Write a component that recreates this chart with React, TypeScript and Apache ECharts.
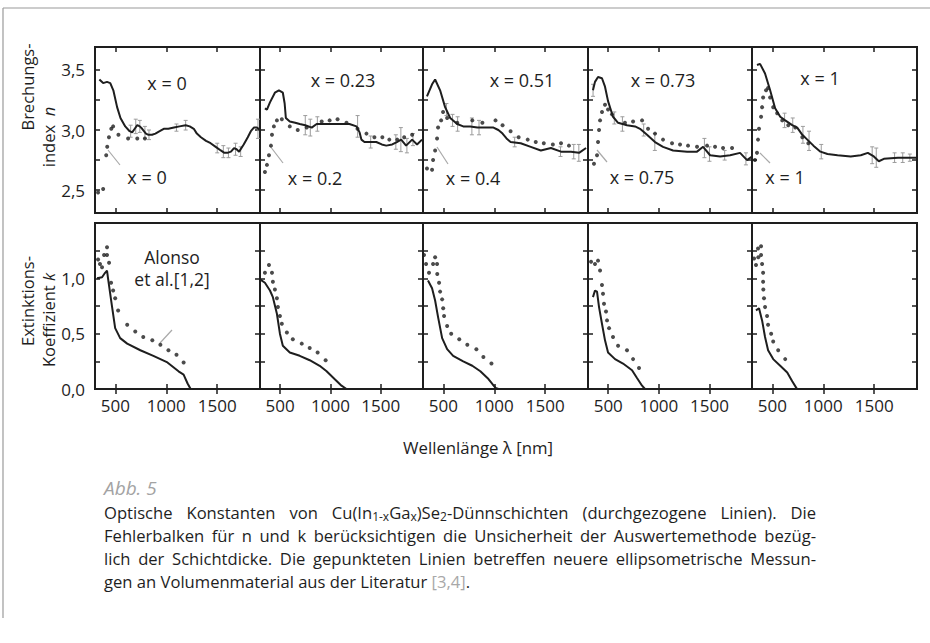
import React, { useEffect, useRef } from "react";
import * as echarts from "echarts";

const FAMILY = '"Open Sans", sans-serif';

// composition labels
const filmLabels = ["x = 0", "x = 0.23", "x = 0.51", "x = 0.73", "x = 1"];
const bulkLabels = ["x = 0", "x = 0.2", "x = 0.4", "x = 0.75", "x = 1"];
const xTickValues = [500, 1000, 1500];
const nTickValues = [2.5, 2.75, 3, 3.25, 3.5];
const nLabelValues = [2.5, 3, 3.5];
const kLabelValues = [0, 0.5, 1];

// refractive index n: film (solid), bulk (dotted), error bars [nm, n, half]
const nFilm0 = [[343,3.42],[380,3.39],[418,3.40],[450,3.39],[480,3.33],[517,3.19],[550,3.10],[597,3.03],[640,2.99],[665,2.98],[690,3.01],[715,3.04],[740,3.03],[763,3.01],[800,2.97],[825,2.96],[860,2.96],[893,2.97],[935,2.99],[975,3.01],[1020,3.01],[1075,3.02],[1130,3.03],[1190,3.04],[1230,3.03],[1270,3.01],[1300,2.97],[1340,2.94],[1390,2.91],[1435,2.89],[1485,2.86],[1535,2.83],[1570,2.81],[1600,2.81],[1635,2.82],[1665,2.85],[1690,2.84],[1715,2.82],[1760,2.88],[1800,2.94],[1830,2.99],[1860,3.02],[1890,3.02],[1920,3.00]];
const nBulk0 = [[330,2.48],[380,2.51],[410,2.79],[420,2.86],[437,2.94],[460,3.01],[478,3.03],[530,2.96],[625,2.93],[715,2.93],[790,2.93]];
const nErr0 = [[650,2.99,0.05],[700,3.03,0.06],[740,3.03,0.05],[790,2.98,0.05],[830,2.96,0.04],[1100,3.02,0.03],[1190,3.04,0.04],[1500,2.85,0.04],[1560,2.82,0.05],[1610,2.81,0.04],[1680,2.84,0.05],[1730,2.82,0.04],[1900,3.01,0.08]];

const nFilm1 = [[349,3.18],[369,3.17],[399,3.23],[448,3.31],[488,3.33],[527,3.31],[545,3.22],[557,3.10],[596,3.07],[650,3.06],[695,3.05],[750,3.04],[814,3.02],[863,3.05],[940,3.05],[1021,3.05],[1100,3.05],[1189,3.05],[1259,3.03],[1290,2.98],[1308,2.92],[1338,2.90],[1400,2.90],[1456,2.90],[1510,2.88],[1555,2.87],[1614,2.88],[1660,2.90],[1703,2.92],[1752,2.87],[1812,2.92],[1861,2.88],[1910,2.92]];
const nBulk1 = [[349,2.65],[369,2.71],[389,2.79],[409,2.87],[419,2.96],[438,3.03],[468,3.08],[517,3.09],[596,3.03],[675,3.00],[764,3.02],[913,3.07],[992,3.08],[1071,3.09],[1160,3.06],[1269,3.01],[1358,2.97],[1437,2.94],[1516,2.94],[1585,2.92],[1664,2.92],[1733,2.94],[1812,2.96]];
const nErr1 = [[750,3.04,0.08],[800,3.02,0.07],[870,3.05,0.06],[1270,3.03,0.09],[1400,2.90,0.05],[1650,2.90,0.06],[1700,2.92,0.10],[1760,2.87,0.06],[1820,2.92,0.05]];

const nFilm2 = [[339,3.28],[389,3.38],[419,3.42],[468,3.33],[517,3.19],[567,3.10],[636,3.05],[695,3.03],[764,3.03],[834,3.02],[893,3.02],[992,3.02],[1040,3.00],[1081,2.97],[1120,2.93],[1160,2.90],[1259,2.89],[1358,2.86],[1457,2.83],[1556,2.85],[1655,2.82],[1753,2.82],[1832,2.81],[1901,2.85]];
const nBulk2 = [[339,2.68],[389,2.67],[399,2.75],[419,2.83],[438,2.93],[448,3.02],[478,3.08],[497,3.15],[537,3.10],[636,3.06],[784,3.08],[883,3.06],[1012,3.08],[1081,3.04],[1160,2.99],[1239,2.94],[1328,2.92],[1407,2.90],[1486,2.89],[1575,2.88],[1655,2.89],[1733,2.87]];
const nErr2 = [[530,3.17,0.05],[590,3.08,0.05],[640,3.05,0.06],[780,3.03,0.07],[850,3.02,0.06],[1200,2.90,0.04],[1650,2.82,0.04],[1780,2.82,0.06],[1830,2.81,0.07]];

const nFilm3 = [[349,3.33],[369,3.40],[399,3.44],[438,3.43],[468,3.36],[498,3.24],[547,3.11],[597,3.06],[685,3.04],[765,3.03],[814,3.01],[883,2.96],[962,2.90],[1041,2.86],[1140,2.83],[1279,2.82],[1377,2.82],[1437,2.86],[1506,2.79],[1605,2.78],[1704,2.79],[1802,2.81],[1871,2.75],[1920,2.78]];
const nBulk3 = [[359,2.72],[389,2.79],[399,2.90],[409,3.00],[419,3.08],[438,3.15],[468,3.21],[498,3.17],[537,3.13],[665,3.06],[745,3.07],[834,3.08],[893,3.01],[962,2.97],[1041,2.92],[1130,2.89],[1209,2.88],[1288,2.87],[1377,2.86],[1476,2.87],[1555,2.86],[1634,2.85],[1723,2.85]];
const nErr3 = [[350,3.33,0.05],[560,3.10,0.05],[640,3.05,0.06],[850,3.00,0.05],[960,2.90,0.07],[1450,2.85,0.08],[1500,2.80,0.06],[1650,2.79,0.04],[1860,2.76,0.05]];

const nFilm4 = [[349,3.54],[379,3.55],[428,3.47],[478,3.33],[527,3.18],[577,3.11],[626,3.08],[695,3.04],[744,3.02],[794,2.96],[843,2.92],[903,2.87],[972,2.82],[1041,2.80],[1140,2.79],[1269,2.78],[1368,2.79],[1437,2.81],[1496,2.78],[1545,2.74],[1595,2.76],[1733,2.77],[1832,2.77],[1911,2.77]];
const nBulk4 = [[329,2.75],[349,2.81],[359,2.92],[369,3.01],[389,3.11],[399,3.19],[409,3.27],[438,3.33],[458,3.35],[478,3.27],[508,3.19],[547,3.14],[597,3.08],[656,3.04],[725,3.02],[794,2.94],[853,2.89]];
const nErr4 = [[620,3.08,0.06],[700,3.04,0.06],[800,2.96,0.07],[860,2.91,0.08],[980,2.82,0.06],[1480,2.79,0.07],[1520,2.77,0.08],[1700,2.77,0.04],[1780,2.77,0.04],[1850,2.77,0.03]];

// extinction coefficient k: film (solid), bulk (dotted)
const kFilm0 = [[320,1.00],[369,1.01],[399,1.05],[418,1.07],[428,1.00],[468,0.74],[498,0.55],[547,0.46],[616,0.41],[745,0.35],[873,0.30],[1011,0.24],[1120,0.16],[1170,0.13],[1209,0.05],[1239,0.00],[1270,0.00]];
const kBulk0 = [[330,1.17],[349,1.13],[369,1.10],[389,1.21],[418,1.28],[418,1.21],[438,1.14],[458,0.96],[478,0.89],[498,0.82],[527,0.71],[616,0.58],[695,0.52],[774,0.47],[863,0.44],[942,0.40],[1021,0.35],[1100,0.31],[1170,0.24]];
const kFilm1 = [[300,0.99],[349,0.96],[399,0.89],[428,0.83],[468,0.68],[498,0.50],[527,0.39],[596,0.33],[695,0.30],[794,0.26],[893,0.21],[962,0.16],[1041,0.09],[1110,0.03],[1160,0.00]];
const kBulk1 = [[349,1.05],[389,1.12],[419,1.05],[428,0.97],[448,0.90],[468,0.82],[478,0.74],[498,0.66],[517,0.59],[567,0.51],[626,0.45],[715,0.41],[794,0.37],[873,0.33],[952,0.26]];
const kFilm2 = [[349,0.98],[389,0.91],[419,0.80],[448,0.65],[488,0.46],[537,0.36],[596,0.30],[695,0.25],[784,0.21],[863,0.16],[943,0.09],[1012,0.01],[1041,0.00]];
const kBulk2 = [[310,1.21],[330,1.13],[359,1.05],[399,1.13],[419,1.19],[438,1.13],[440,1.04],[458,0.96],[468,0.88],[488,0.81],[498,0.73],[507,0.66],[537,0.57],[577,0.50],[656,0.45],[735,0.40],[824,0.36],[893,0.29],[972,0.23]];
const kFilm3 = [[349,0.83],[369,0.89],[389,0.88],[409,0.74],[438,0.59],[468,0.44],[498,0.33],[567,0.27],[646,0.23],[735,0.17],[784,0.10],[834,0.03],[863,0.00]];
const kBulk3 = [[330,1.15],[369,1.13],[399,1.16],[419,1.07],[438,0.94],[448,0.86],[458,0.77],[478,0.70],[488,0.62],[508,0.55],[547,0.47],[597,0.39],[685,0.35],[745,0.27],[804,0.19]];
const kFilm4 = [[339,0.71],[369,0.73],[399,0.62],[428,0.47],[458,0.35],[508,0.27],[577,0.21],[646,0.15],[695,0.07],[735,0.01],[745,0.00]];
const kBulk4 = [[320,1.18],[339,1.12],[359,1.27],[389,1.29],[362,1.19],[389,1.21],[399,1.13],[409,1.05],[409,0.97],[411,0.90],[418,0.82],[428,0.74],[448,0.66],[458,0.58],[488,0.50],[508,0.43],[557,0.35],[626,0.27]];

const nFilm = [nFilm0, nFilm1, nFilm2, nFilm3, nFilm4];
const nBulk = [nBulk0, nBulk1, nBulk2, nBulk3, nBulk4];
const nErr = [nErr0, nErr1, nErr2, nErr3, nErr4];
const kFilm = [kFilm0, kFilm1, kFilm2, kFilm3, kFilm4];
const kBulk = [kBulk0, kBulk1, kBulk2, kBulk3, kBulk4];

const captionHead = "Abb. 5";
const captionLines = [
  "Optische Konstanten von Cu(In_{1-x}Ga_{x})Se_{2}-Dünnschichten (durchgezogene Linien). Die",
  "Fehlerbalken für n und k berücksichtigen die Unsicherheit der Auswertemethode bezüg-",
  "lich der Schichtdicke. Die gepunkteten Linien betreffen neuere ellipsometrische Messun-",
  "gen an Volumenmaterial aus der Literatur #{[3,4]}.",
];

// layout
const panelLeft = [95, 260, 423, 588, 752];
const panelRight = 917;
const rowTop = [47, 223];
const rowHeight = 166;
const INK = "#1e1e1e";

function buildCaption(): any[] {
  const ctx = document.createElement("canvas").getContext("2d") as CanvasRenderingContext2D;
  const measure = (t: string, size: number) => {
    ctx.font = `${size}px ${FAMILY}`;
    return ctx.measureText(t).width;
  };
  const SIZE = 16.6;
  const SUB = 12;
  const X0 = 104;
  const W = 712;
  const Y0 = 512;
  const LH = 23;
  const out: any[] = [];
  captionLines.forEach((line, li) => {
    const words = line.split(" ").map((w) => {
      const segs: { t: string; kind: string }[] = [];
      const re = /_\{([^}]*)\}|#\{([^}]*)\}/g;
      let last = 0;
      let m: RegExpExecArray | null;
      while ((m = re.exec(w))) {
        if (m.index > last) segs.push({ t: w.slice(last, m.index), kind: "n" });
        if (m[1] !== undefined) segs.push({ t: m[1], kind: "sub" });
        else segs.push({ t: m[2], kind: "gray" });
        last = re.lastIndex;
      }
      if (last < w.length) segs.push({ t: w.slice(last), kind: "n" });
      const widths = segs.map((s) => measure(s.t, s.kind === "sub" ? SUB : SIZE));
      return { segs, widths, total: widths.reduce((a, b) => a + b, 0) };
    });
    const sum = words.reduce((a, w) => a + w.total, 0);
    const justify = li < captionLines.length - 1;
    const gap = justify ? (W - sum) / (words.length - 1) : measure(" ", SIZE);
    let x = X0;
    const y = Y0 + li * LH;
    words.forEach((w) => {
      let sx = x;
      w.segs.forEach((s, si) => {
        out.push({
          type: "text",
          x: sx,
          y: s.kind === "sub" ? y + 4 : y,
          silent: true,
          style: {
            text: s.t,
            fontSize: s.kind === "sub" ? SUB : SIZE,
            fontFamily: FAMILY,
            fill: s.kind === "gray" ? "#a8a8a8" : INK,
            align: "left",
            verticalAlign: "middle",
          },
        });
        sx += w.widths[si];
      });
      x += w.total + gap;
    });
  });
  return out;
}

export default function App() {
  const ref = useRef<HTMLDivElement>(null);
  useEffect(() => {
    if (!ref.current) return;
    const chart = echarts.init(ref.current, null, { renderer: "svg" });

    const grids: any[] = [];
    const xAxes: any[] = [];
    const yAxes: any[] = [];
    const series: any[] = [];

    const tickStyle = { show: true, inside: true, length: 5, lineStyle: { color: INK, width: 1.5 } };
    const labelFont = { fontFamily: FAMILY, fontSize: 17, color: INK };

    for (let r = 0; r < 2; r++) {
      for (let i = 0; i < 5; i++) {
        const g = r * 5 + i;
        const left = panelLeft[i];
        const right = i < 4 ? panelLeft[i + 1] : panelRight;
        grids.push({
          left,
          top: rowTop[r],
          width: right - left,
          height: rowHeight,
          show: true,
          borderColor: INK,
          borderWidth: 2,
          backgroundColor: "transparent",
        });
        const xBase = {
          type: "value",
          gridIndex: g,
          min: 300,
          max: 1920,
          splitLine: { show: false },
          axisLine: { show: false },
          axisTick: { ...tickStyle, customValues: xTickValues },
        };
        xAxes.push({
          ...xBase,
          position: "bottom",
          axisLabel:
            r === 1
              ? { show: true, customValues: xTickValues, margin: 8, ...labelFont, formatter: (v: number) => String(v) }
              : { show: false },
        });
        xAxes.push({ ...xBase, position: "top", axisLabel: { show: false } });

        const yBase: any =
          r === 0
            ? { type: "value", gridIndex: g, min: 2.31, max: 3.69, axisTick: { ...tickStyle, customValues: nTickValues } }
            : { type: "value", gridIndex: g, min: 0, max: 1.5, interval: 0.25, axisTick: { ...tickStyle } };
        yBase.splitLine = { show: false };
        yBase.axisLine = { show: false };
        yAxes.push({
          ...yBase,
          position: "left",
          axisLabel:
            i === 0
              ? {
                  show: true,
                  customValues: r === 0 ? nLabelValues : kLabelValues,
                  margin: 10,
                  ...labelFont,
                  formatter: (v: number) => v.toFixed(1).replace(".", ","),
                }
              : { show: false },
        });
        yAxes.push({ ...yBase, position: "right", axisLabel: { show: false } });

        const film = r === 0 ? nFilm[i] : kFilm[i];
        const bulk = r === 0 ? nBulk[i] : kBulk[i];
        if (r === 0) {
          series.push({
            type: "custom",
            xAxisIndex: 2 * g,
            yAxisIndex: 2 * g,
            data: nErr[i],
            encode: { x: 0, y: 1 },
            z: 1,
            silent: true,
            renderItem: (params: any, api: any) => {
              const x = api.value(0);
              const y = api.value(1);
              const e = api.value(2);
              const t = api.coord([x, y + e]);
              const b = api.coord([x, y - e]);
              const st = { stroke: "#9c9c9c", lineWidth: 1 };
              return {
                type: "group",
                children: [
                  { type: "line", shape: { x1: t[0], y1: t[1], x2: b[0], y2: b[1] }, style: st },
                  { type: "line", shape: { x1: t[0] - 2, y1: t[1], x2: t[0] + 2, y2: t[1] }, style: st },
                  { type: "line", shape: { x1: b[0] - 2, y1: b[1], x2: b[0] + 2, y2: b[1] }, style: st },
                ],
              };
            },
          });
        }
        series.push({
          type: "line",
          xAxisIndex: 2 * g,
          yAxisIndex: 2 * g,
          data: film,
          showSymbol: false,
          symbol: "none",
          z: 3,
          lineStyle: { color: INK, width: 2 },
          silent: true,
        });
        series.push({
          type: "scatter",
          xAxisIndex: 2 * g,
          yAxisIndex: 2 * g,
          data: bulk,
          symbol: "circle",
          symbolSize: 4,
          z: 4,
          itemStyle: { color: INK },
          silent: true,
        });
      }
    }

    const txt = (text: string, x: number, y: number, size = 18, extra: any = {}) => ({
      type: "text",
      x,
      y,
      silent: true,
      style: { text, fontSize: size, fontFamily: FAMILY, fill: INK, align: "center", verticalAlign: "middle", ...extra },
    });
    const lead = (x1: number, y1: number, x2: number, y2: number) => ({
      type: "line",
      silent: true,
      shape: { x1, y1, x2, y2 },
      style: { stroke: "#a9a9a9", lineWidth: 1.2 },
    });

    const filmPos = [[167, 83], [343, 80], [522, 80], [663, 80], [820, 78]];
    const bulkPos = [[147, 177], [315, 178], [473, 178], [642, 177], [785, 177]];
    const leaders = [[108, 150, 120, 165], [270, 146, 283, 163], [437, 147, 448, 164], [597, 150, 607, 162], [760, 153, 770, 163]];

    const graphics: any[] = [
      { type: "line", silent: true, shape: { x1: 3, y1: 8, x2: 930, y2: 8 }, style: { stroke: "#9a9a9a", lineWidth: 1.2 } },
      { type: "line", silent: true, shape: { x1: 3, y1: 8, x2: 3, y2: 618 }, style: { stroke: "#9a9a9a", lineWidth: 1.2 } },
    ];
    filmLabels.forEach((l, i) => graphics.push(txt(l, filmPos[i][0], filmPos[i][1])));
    bulkLabels.forEach((l, i) => graphics.push(txt(l, bulkPos[i][0], bulkPos[i][1])));
    leaders.forEach((p) => graphics.push(lead(p[0], p[1], p[2], p[3])));
    graphics.push(txt("Alonso", 172, 257, 17.5));
    graphics.push(txt("et al.[1,2]", 172, 279, 17.5));
    graphics.push(lead(160, 343, 172, 330));

    const rot = (text: string, x: number, y: number, rich?: any) => ({
      type: "text",
      x,
      y,
      rotation: Math.PI / 2,
      silent: true,
      style: { text, fontSize: 16.5, fontFamily: FAMILY, fill: INK, align: "center", verticalAlign: "middle", rich },
    });
    const rich = {
      a: { fontSize: 16.5, fontFamily: FAMILY, fill: INK },
      b: { fontSize: 16.5, fontFamily: FAMILY, fill: INK, fontStyle: "italic" },
    };
    graphics.push(rot("Brechungs-", 27, 87));
    graphics.push(rot("{a|index  }{b|n}", 48, 137, rich));
    graphics.push(rot("Extinktions-", 27, 301));
    graphics.push(rot("{a|Koeffizient }{b|k}", 48, 320, rich));

    graphics.push(txt("Wellenlänge λ [nm]", 478, 447, 16.8));
    graphics.push({
      type: "text",
      x: 104,
      y: 488,
      silent: true,
      style: { text: captionHead, fontSize: 19, fontFamily: FAMILY, fontStyle: "italic", fill: "#a3a3a3", align: "left", verticalAlign: "middle" },
    });
    buildCaption().forEach((t) => graphics.push(t));

    chart.setOption({
      animation: false,
      backgroundColor: "#ffffff",
      grid: grids,
      xAxis: xAxes,
      yAxis: yAxes,
      series,
      graphic: graphics,
    });
    return () => chart.dispose();
  }, []);
  return <div ref={ref} style={{ position: "fixed", left: 0, top: 0, width: 930, height: 643 }} />;
}
